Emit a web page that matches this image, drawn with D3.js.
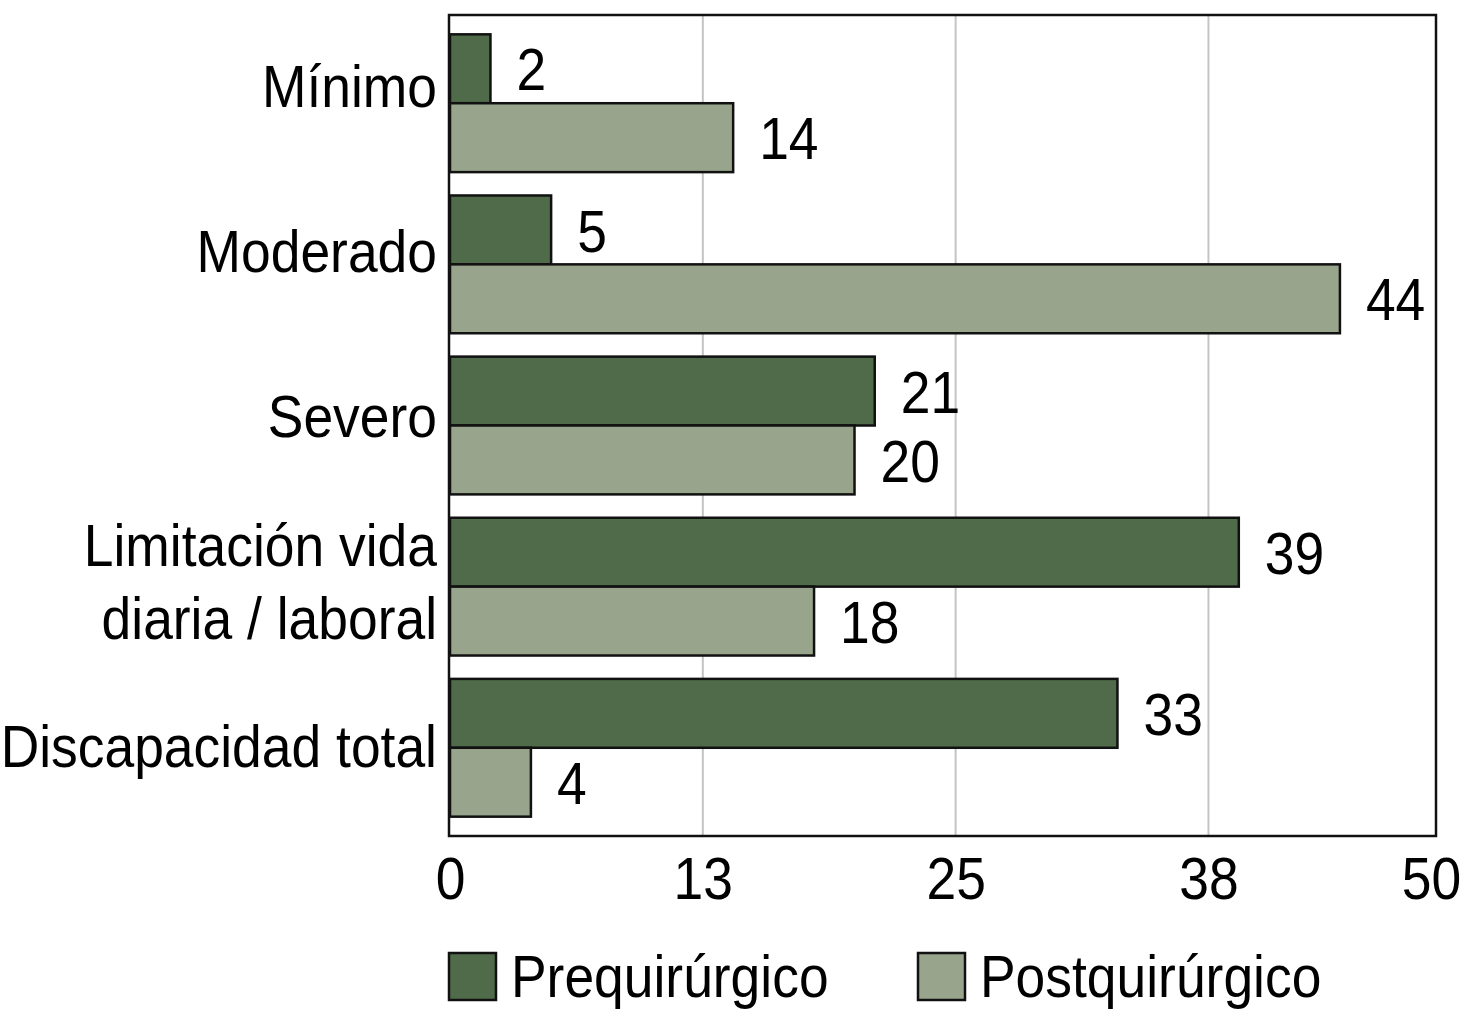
<!DOCTYPE html>
<html>
<head>
<meta charset="utf-8">
<script src="https://cdn.jsdelivr.net/npm/d3@7"></script>
<style>
    body { margin: 0; background: #fff; }
    text { font-family: "Liberation Sans", Arial, sans-serif; fill: #000; }
</style>
</head>
<body>
<div id="chart"></div>
<script>

// data (percent of patients)
var categories = ["Mínimo", "Moderado", "Severo", "Limitación vida\ndiaria / laboral", "Discapacidad total"];
var seriesNames = ["Prequirúrgico", "Postquirúrgico"];
var preValues = [2, 5, 21, 39, 33];
var postValues = [14, 44, 20, 18, 4];
var tickValues = [0, 12.5, 25, 37.5, 48.75];
var tickLabels = ["0", "13", "25", "38", "50"];

/*
 * BarChart - Object constructor function
 * @param _parentElement -- the HTML element in which to draw the chart
 */
BarChart = function(_parentElement) {
    this.parentElement = _parentElement;
    this.initVis();
};


BarChart.prototype.initVis = function() {
    var vis = this;

    vis.w = 1464;
    vis.h = 1024;
    vis.left = 449;
    vis.right = 1436;
    vis.top = 15;
    vis.bottom = 836;
    vis.fontSize = 60;
    vis.squeeze = 0.89;   // no condensed font here, so narrow the glyphs

    vis.color = d3.scaleOrdinal()
        .domain(seriesNames)
        .range(["#4f6b4a", "#98a58c"]);

    vis.svg = d3.select(vis.parentElement)
        .append("svg")
        .attr("width", vis.w)
        .attr("height", vis.h);

    vis.x = d3.scaleLinear()
        .domain([0, tickValues[tickValues.length - 1]])
        .range([vis.left + 1, vis.right]);

    vis.y = d3.scaleBand()
        .domain(categories)
        .range([vis.top, vis.bottom])
        .paddingInner(0.145)
        .paddingOuter(0.12);

    vis.ySub = d3.scaleBand()
        .domain(seriesNames)
        .range([0, vis.y.bandwidth()]);

    // category labels sit on their own slightly wider spacing (baselines)
    vis.yLabel = d3.scalePoint()
        .domain(categories)
        .range([107, 767]);

    vis.wrangleData();
};


BarChart.prototype.wrangleData = function() {
    var vis = this;

    vis.rows = categories.map(function(c, i) {
        return {
            category: c,
            values: [
                { series: seriesNames[0], value: preValues[i] },
                { series: seriesNames[1], value: postValues[i] }
            ]
        };
    });

    vis.updateVis();
};


BarChart.prototype.updateVis = function() {
    var vis = this;

    // gridlines
    vis.svg.selectAll(".grid")
        .data(tickValues.slice(1, -1))
        .enter()
        .append("line")
        .attr("x1", function(d) { return vis.x(d); })
        .attr("x2", function(d) { return vis.x(d); })
        .attr("y1", vis.top)
        .attr("y2", vis.bottom)
        .attr("stroke", "#c4c4c4")
        .attr("stroke-width", 2);

    var groups = vis.svg.selectAll(".group")
        .data(vis.rows)
        .enter()
        .append("g")
        .attr("class", "group")
        .attr("transform", function(d) { return "translate(0," + vis.y(d.category) + ")"; });

    groups.selectAll("rect")
        .data(function(d) { return d.values; })
        .enter()
        .append("rect")
        .attr("x", vis.x(0))
        .attr("y", function(d) { return vis.ySub(d.series); })
        .attr("width", function(d) { return vis.x(d.value) - vis.x(0); })
        .attr("height", vis.ySub.bandwidth())
        .attr("fill", function(d) { return vis.color(d.series); })
        .attr("stroke", "#111")
        .attr("stroke-width", 2.5);

    groups.selectAll(".val")
        .data(function(d) { return d.values; })
        .enter()
        .append("text")
        .attr("class", "val squeeze")
        .attr("x", function(d) { return vis.x(d.value) + 26; })
        .attr("y", function(d) { return vis.ySub(d.series) + vis.ySub.bandwidth() / 2 + vis.fontSize * 0.36; })
        .style("font-size", vis.fontSize + "px")
        .text(function(d) { return d.value; });

    // category labels, split on \n
    var cat = vis.svg.selectAll(".cat")
        .data(categories)
        .enter()
        .append("text")
        .attr("class", "cat")
        .attr("text-anchor", "end")
        .attr("x", vis.left - 12)
        .style("font-size", vis.fontSize + "px");

    cat.selectAll("tspan")
        .data(function(d) {
            var lines = d.split("\n");
            return lines.map(function(l, i) { return { cat: d, text: l, i: i, n: lines.length }; });
        })
        .enter()
        .append("tspan")
        .attr("class", "squeeze")
        .attr("x", vis.left - 12)
        .attr("y", function(d) { return vis.yLabel(d.cat) + (d.i - (d.n - 1) / 2) * 73; })
        .text(function(d) { return d.text; });

    // frame
    vis.svg.append("rect")
        .attr("x", vis.left)
        .attr("y", vis.top)
        .attr("width", vis.right - vis.left)
        .attr("height", vis.bottom - vis.top)
        .attr("fill", "none")
        .attr("stroke", "#111")
        .attr("stroke-width", 2.5);

    // x axis
    var xAxis = d3.axisBottom(vis.x)
        .tickValues(tickValues)
        .tickSize(0)
        .tickPadding(20)
        .tickFormat(function(d, i) { return tickLabels[i]; });

    vis.svg.append("g")
        .attr("class", "x-axis")
        .attr("transform", "translate(0," + vis.bottom + ")")
        .call(xAxis)
        .call(function(g) { g.select(".domain").remove(); })
        .selectAll("text")
        .attr("class", "squeeze")
        .attr("dx", function(d, i) { return i === tickValues.length - 1 ? -5 : 0; })
        .style("font-size", vis.fontSize + "px")
        .style("font-family", "'Liberation Sans', Arial, sans-serif")
        .attr("fill", "#000");

    // legend
    var legendX = [449, 918];
    var legend = vis.svg.selectAll(".legend")
        .data(seriesNames)
        .enter()
        .append("g")
        .attr("transform", function(d, i) { return "translate(" + legendX[i] + ",953)"; });

    legend.append("rect")
        .attr("width", 47)
        .attr("height", 47)
        .attr("fill", function(d) { return vis.color(d); })
        .attr("stroke", "#111")
        .attr("stroke-width", 2.5);

    legend.append("text")
        .attr("class", "squeeze")
        .attr("x", 62)
        .attr("y", 44)
        .style("font-size", vis.fontSize + "px")
        .text(function(d) { return d; });

    // condense every label to the narrow look of the original
    vis.svg.selectAll(".squeeze").each(function() {
        var len = this.getComputedTextLength();
        d3.select(this)
            .attr("textLength", len * vis.squeeze)
            .attr("lengthAdjust", "spacingAndGlyphs");
    });
};

var chart = new BarChart("#chart");

</script>
</body>
</html>
